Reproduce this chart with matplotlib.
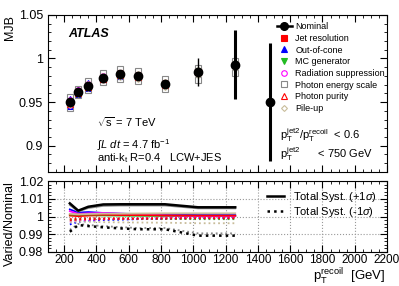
import matplotlib
matplotlib.use("Agg")
import matplotlib.pyplot as plt
import numpy as np

plt.rcParams['font.family'] = ['Liberation Sans', 'DejaVu Sans']
plt.rcParams['mathtext.fontset'] = 'custom'
plt.rcParams['mathtext.rm'] = 'Liberation Sans'
plt.rcParams['mathtext.it'] = 'Liberation Sans:italic'
plt.rcParams['mathtext.bf'] = 'Liberation Sans:bold'

# nominal MJB
pt = [236, 288, 350, 443, 546, 660, 825, 1030, 1260, 1475]
mjb = [0.950, 0.962, 0.969, 0.978, 0.982, 0.980, 0.971, 0.985, 0.993, 0.950]
err = [0.004, 0.003, 0.004, 0.003, 0.003, 0.004, 0.004, 0.016, 0.040, 0.068]

# varied/nominal ratios (first 9 bins)
jer_up = [1.0005, 1.0002, 1.0005, 1.0008, 1.0010, 1.0010, 1.0010, 1.0004, 1.0004]
jer_dn = [0.9985, 0.9990, 0.9990, 0.9990, 0.9990, 0.9990, 0.9992, 0.9994, 0.9994]
ooc_up = [1.0040, 1.0022, 1.0025, 1.0020, 1.0016, 1.0014, 1.0010, 1.0008, 1.0008]
ooc_dn = [0.9955, 0.9970, 0.9975, 0.9980, 0.9982, 0.9985, 0.9986, 0.9990, 0.9990]
mc_up = [1.0010, 1.0008, 1.0008, 1.0006, 1.0005, 1.0004, 1.0003, 1.0002, 1.0002]
mc_dn = [0.9980, 0.9982, 0.9984, 0.9985, 0.9985, 0.9986, 0.9986, 0.9985, 0.9985]
rad_up = [1.0030, 1.0015, 1.0018, 1.0020, 1.0016, 1.0012, 1.0006, 1.0003, 1.0003]
rad_dn = [0.9970, 0.9978, 0.9980, 0.9984, 0.9986, 0.9988, 0.9990, 0.9993, 0.9993]
pes_up = [1.0065, 1.0028, 1.0048, 1.0060, 1.0062, 1.0062, 1.0062, 1.0046, 1.0046]
pes_dn = [0.9925, 0.9958, 0.9952, 0.9946, 0.9940, 0.9935, 0.9935, 0.9905, 0.9905]
pur_up = [1.0012, 1.0010, 1.0010, 1.0010, 1.0008, 1.0008, 1.0006, 1.0005, 1.0005]
pur_dn = [0.9978, 0.9982, 0.9984, 0.9986, 0.9986, 0.9987, 0.9988, 0.9990, 0.9990]
pu_up = [1.0015, 1.0012, 1.0014, 1.0016, 1.0016, 1.0017, 1.0018, 1.0018, 1.0018]
pu_dn = [0.9968, 0.9972, 0.9970, 0.9968, 0.9967, 0.9966, 0.9965, 0.9962, 0.9962]
tot_up = [1.0074, 1.0033, 1.0055, 1.0068, 1.0069, 1.0069, 1.0069, 1.0052, 1.0052]
tot_dn = [0.9914, 0.9952, 0.9946, 0.9939, 0.9933, 0.9928, 0.9928, 0.9892, 0.9892]

variations = [
    ("Jet resolution", jer_up, jer_dn, 's', 'red', 'red'),
    ("Out-of-cone", ooc_up, ooc_dn, '^', 'blue', 'blue'),
    ("MC generator", mc_up, mc_dn, 'v', '#22bb22', '#22bb22'),
    ("Radiation suppression", rad_up, rad_dn, 'o', 'none', 'magenta'),
    ("Photon energy scale", pes_up, pes_dn, 's', 'none', '#888888'),
    ("Photon purity", pur_up, pur_dn, '^', 'none', 'red'),
    ("Pile-up", pu_up, pu_dn, 'D', 'none', '#c8bc9a'),
]

fig = plt.figure(figsize=(3.99, 2.86), dpi=100)
ax = fig.add_axes([0.120, 0.399, 0.850, 0.549])
axr = fig.add_axes([0.120, 0.119, 0.850, 0.248])

n = len(jer_up)
ptv = np.array(pt[:n])
nom = np.array(mjb[:n])

for name, up, dn, m, fc, ec in variations:
    ms = 4 if m != 'D' else 3
    ax.plot(ptv, nom * np.array(up), ls='none', marker=m, mfc=fc, mec=ec,
            ms=ms, mew=0.8, label=name)
    ax.plot(ptv, nom * np.array(dn), ls='none', marker=m, mfc=fc, mec=ec,
            ms=ms, mew=0.8)
    axr.plot(ptv, up, color=ec, lw=1.3, ls='-')
    axr.plot(ptv, dn, color=ec, lw=1.3, ls=':')

eb = ax.errorbar(pt, mjb, yerr=err, fmt='o', color='black', ms=6, lw=1.0,
                 capsize=0, zorder=10)
lws = [1.0] * 8 + [2.2, 2.2]
eb[2][0].set_linewidths(lws)
ax.plot([], [], color='black', marker='o', ms=5.5, lw=1.8, label='Nominal')

axr.plot(ptv, tot_up, color='black', lw=1.8, ls='-', label='Total Syst. (+1$\\sigma$)')
axr.plot(ptv, tot_dn, color='black', lw=1.8, ls=':', label='Total Syst. (-1$\\sigma$)')

for a in (ax, axr):
    a.set_xlim(100, 2200)
    a.minorticks_on()
    a.tick_params(which='both', direction='in', top=True, right=True,
                  labelsize=9)
    a.tick_params(which='major', length=5)
    a.tick_params(which='minor', length=2.5)
    a.set_xticks(np.arange(200, 2201, 200))

axr.tick_params(axis='x', labelsize=8.5, pad=1.5)

ax.set_ylim(0.87, 1.05)
ax.set_yticks([0.9, 0.95, 1.0, 1.05])
ax.set_yticklabels(['0.9', '0.95', '1', '1.05'])
ax.tick_params(labelbottom=False)
ax.set_ylabel('MJB', fontsize=9, loc='top')
ax.yaxis.set_label_coords(-0.095, 1.0)

axr.set_ylim(0.98, 1.02)
axr.set_yticks([0.98, 0.99, 1.0, 1.01, 1.02])
axr.set_yticklabels(['0.98', '0.99', '1', '1.01', '1.02'])
axr.grid(True, which='major', ls=':', color='#999999', lw=0.8)
axr.set_ylabel('Varied/Nominal', fontsize=9)
axr.yaxis.set_label_coords(-0.095, 0.4)
fig.text(385 / 399, 1 - 277 / 286, '$\\mathregular{p_T^{recoil}}$  [GeV]',
         fontsize=9.5, ha='right', va='center')

h, l = ax.get_legend_handles_labels()
order = [l.index('Nominal')] + [l.index(v[0]) for v in variations]
ax.legend([h[i] for i in order], [l[i] for i in order], loc='upper left',
          bbox_to_anchor=(0.655, 1.0), frameon=False, fontsize=6.5,
          handlelength=1.6, labelspacing=0.3, borderpad=0.3, handletextpad=0.4)

axr.legend(loc='upper right', bbox_to_anchor=(1.0, 1.02), frameon=False,
           fontsize=8, handlelength=1.6, labelspacing=0.15)

ax.text(0.059, 0.879, 'ATLAS', transform=ax.transAxes, fontsize=9,
        fontweight='bold', style='italic', va='center')
ax.text(0.145, 0.318, '$\\sqrt{\\mathregular{s}}$ = 7 TeV', transform=ax.transAxes,
        fontsize=8, va='center')
ax.text(0.145, 0.172, '$\\int\\mathbf{\\mathit{L}\\ \\mathit{dt}}$ = 4.7 fb$^{\\mathregular{-1}}$',
        transform=ax.transAxes, fontsize=8, va='center')
ax.text(0.145, 0.085, 'anti-k$_\\mathregular{t}$ R=0.4   LCW+JES',
        transform=ax.transAxes, fontsize=8, va='center')
ax.text(0.684, 0.236, '$\\mathregular{p_T^{jet2}/p_T^{recoil}}$  < 0.6',
        transform=ax.transAxes, fontsize=8, va='center')
ax.text(0.684, 0.115, '$\\mathregular{p_T^{jet2}}$      < 750 GeV',
        transform=ax.transAxes, fontsize=8, va='center')

fig.savefig('out.png', dpi=100)
